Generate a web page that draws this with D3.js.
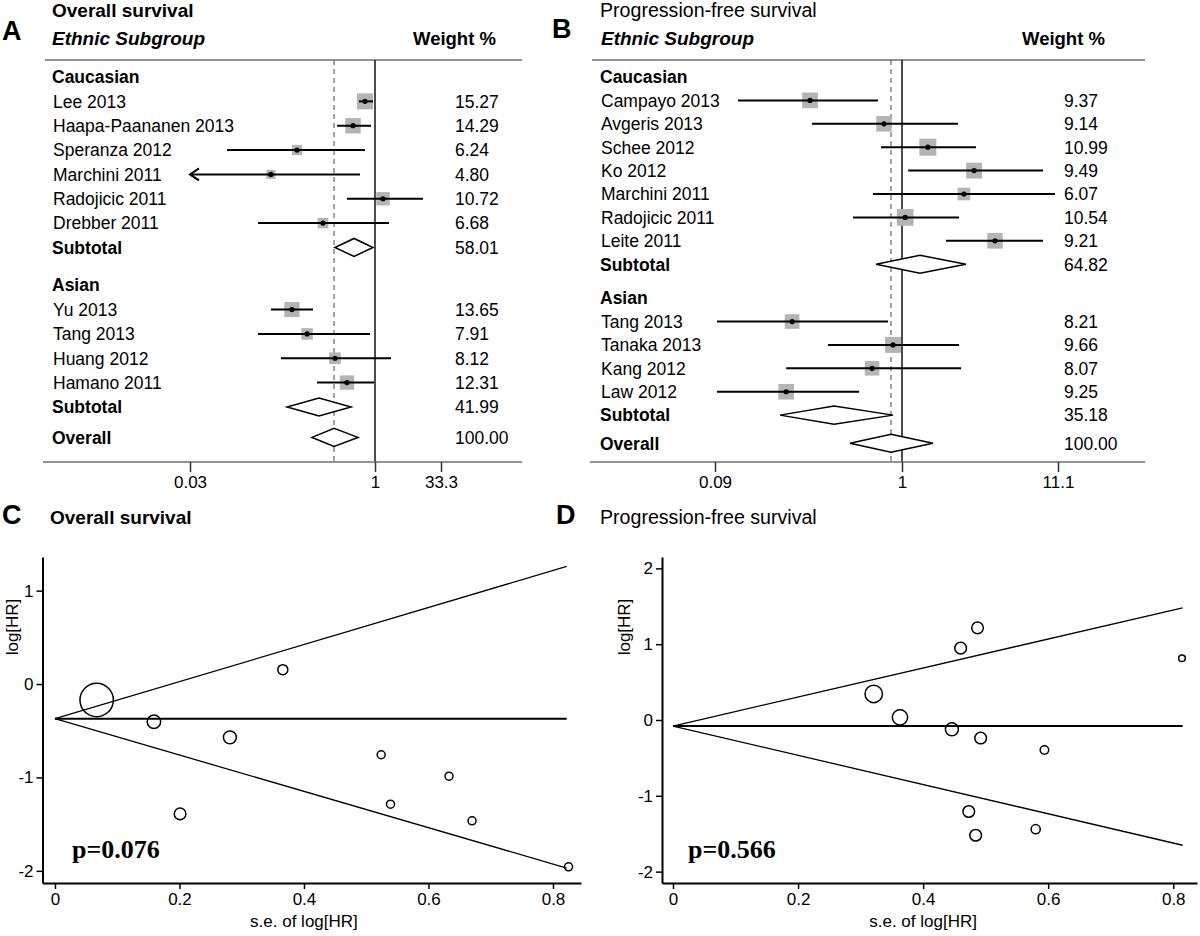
<!DOCTYPE html>
<html><head><meta charset="utf-8">
<script src="https://cdn.jsdelivr.net/npm/d3@7"></script>
<style>body{margin:0;background:#fff}svg{display:block}</style>
</head><body><svg id="c" width="1200" height="936"></svg>
<script>
// ================= DATA =================
// Panel A – Overall survival forest plot
const osGroups = ["Caucasian", "Asian"];
const osStudies = ["Lee 2013", "Haapa-Paananen 2013", "Speranza 2012", "Marchini 2011", "Radojicic 2011", "Drebber 2011",
                   "Yu 2013", "Tang 2013", "Huang 2012", "Hamano 2011"];
const osStudyGroup = [0, 0, 0, 0, 0, 0, 1, 1, 1, 1];
const osHR    = [0.827, 0.659, 0.228, 0.139, 1.53, 0.373, 0.207, 0.276, 0.468, 0.588];
const osLower = [0.738, 0.487, 0.0605, 0.02, 0.588, 0.109, 0.139, 0.109, 0.168, 0.333];
const osUpper = [0.963, 0.927, 0.827, 0.753, 12.8, 2.10, 0.309, 0.910, 2.34, 0.981];
const osWeight = [15.27, 14.29, 6.24, 4.80, 10.72, 6.68, 13.65, 7.91, 8.12, 12.31];
const osSubHR = [0.672, 0.346], osSubLower = [0.468, 0.189], osSubUpper = [0.963, 0.635], osSubWeight = [58.01, 41.99];
const osOverall = [0.460, 0.303, 0.725, 100.00]; // HR, lower, upper, weight
const osTicks = [0.03, 1, 33.3];

// Panel B – Progression-free survival forest plot
const pfsGroups = ["Caucasian", "Asian"];
const pfsStudies = ["Campayo 2013", "Avgeris 2013", "Schee 2012", "Ko 2012", "Marchini 2011", "Radojicic 2011", "Leite 2011",
                    "Tang 2013", "Tanaka 2013", "Kang 2012", "Law 2012"];
const pfsStudyGroup = [0, 0, 0, 0, 0, 0, 0, 1, 1, 1, 1];
const pfsHR    = [0.306, 0.793, 1.49, 3.04, 2.60, 1.05, 4.20, 0.243, 0.891, 0.680, 0.225];
const pfsLower = [0.121, 0.314, 0.763, 1.10, 0.688, 0.532, 1.97, 0.0923, 0.386, 0.225, 0.0923];
const pfsUpper = [0.734, 2.37, 3.13, 8.81, 10.6, 2.41, 8.81, 0.835, 2.41, 2.49, 0.575];
const pfsWeight = [9.37, 9.14, 10.99, 9.49, 6.07, 10.54, 9.21, 8.21, 9.66, 8.07, 9.25];
const pfsSubHR = [1.32, 0.417], pfsSubLower = [0.716, 0.208], pfsSubUpper = [2.68, 0.891], pfsSubWeight = [64.82, 35.18];
const pfsOverall = [0.868, 0.512, 1.61, 100.00];
const pfsTicks = [0.09, 1, 11.1];

// Panel C – Overall survival funnel plot
const osFunnelSE    = [0.067, 0.159, 0.281, 0.366, 0.201, 0.524, 0.539, 0.633, 0.670, 0.825];
const osFunnelLogHR = [-0.171, -0.403, -0.571, 0.154, -1.39, -0.757, -1.286, -0.986, -1.464, -1.957];
const osFunnelW     = [279, 45, 42, 25, 34, 16, 16, 16, 16, 16];
const osFunnelLineSE = [0, 0.822];
const osFunnelMid    = [-0.371, -0.371];
const osFunnelUpper  = [-0.371, 1.26];
const osFunnelLower  = [-0.371, -1.97];
const osFunnelP = "p=0.076";

// Panel D – Progression-free survival funnel plot
const pfsFunnelSE    = [0.321, 0.363, 0.446, 0.460, 0.487, 0.492, 0.594, 0.814, 0.473, 0.484, 0.580];
const pfsFunnelLogHR = [0.344, 0.035, -0.123, 0.947, 1.216, -0.238, -0.396, 0.815, -1.207, -1.520, -1.44];
const pfsFunnelW     = [76, 59, 42, 34, 34, 34, 18, 11, 34, 34, 21];
const pfsFunnelLineSE = [0, 0.815];
const pfsFunnelMid    = [-0.08, -0.08];
const pfsFunnelUpper  = [-0.08, 1.48];
const pfsFunnelLower  = [-0.08, -1.652];
const pfsFunnelP = "p=0.566";

const funnelXTicks = [0, 0.2, 0.4, 0.6, 0.8];

// ================= DRAWING =================
const FONT = '"Liberation Sans", Arial, Helvetica, sans-serif';
const SERIF = '"Liberation Serif", "Times New Roman", Times, serif';
const svg = d3.select("#c");

function txt(g, x, y, s, o = {}) {
  const t = g.append("text").attr("x", x).attr("y", y).text(s)
    .attr("font-family", o.family || FONT)
    .attr("font-size", o.size || 17.5)
    .attr("font-weight", o.bold ? "bold" : "normal")
    .attr("font-style", o.italic ? "italic" : "normal")
    .attr("text-anchor", o.anchor || "start")
    .attr("fill", "#000");
  if (o.dy) t.attr("dy", o.dy);
  if (o.transform) t.attr("transform", o.transform);
  return t;
}

function drawForest(c) {
  const g = svg.append("g");
  const d = c.data;
  const rows = []; let idx = 0;
  d.groups.forEach((gr, gi) => {
    if (gi > 0) idx += c.gap;
    rows.push({ type: "group", label: gr, idx }); idx++;
    d.studies.forEach((s, i) => {
      if (d.studyGroup[i] !== gi) return;
      rows.push({ type: "study", label: s, hr: d.hr[i], lo: d.lo[i], hi: d.hi[i], w: d.w[i], idx }); idx++;
    });
    rows.push({ type: "sub", label: "Subtotal", hr: d.subHR[gi], lo: d.subLo[gi], hi: d.subHi[gi], w: d.subW[gi], idx }); idx++;
  });
  idx += c.overallExtra;
  rows.push({ type: "overall", label: "Overall", hr: d.overall[0], lo: d.overall[1], hi: d.overall[2], w: d.overall[3], idx });

  const x = c.x;
  const yPos = i => c.y0 + i * c.step;
  const dom = x.domain();
  const dMin = dom[0], dMax = dom[dom.length - 1];
  const side = d3.scaleSqrt().domain([0, d3.max(d.w)]).range([0, c.maxSide]);
  const fmt = d3.format(".2f");

  txt(g, c.letterX, c.letterY, c.letter, { size: 27, bold: true });
  txt(g, c.titleX, 17, c.title, { size: c.titleSize, bold: c.titleBold });
  txt(g, c.headX, 45, "Ethnic Subgroup", { size: 19, bold: true, italic: true });
  txt(g, c.weightHeadX, 45, "Weight %", { size: 18.5, bold: true });
  g.append("line").attr("x1", c.lineX0).attr("x2", c.lineX1).attr("y1", c.topY).attr("y2", c.topY)
    .attr("stroke", "#6f6f6f").attr("stroke-width", 1.5);

  g.append("line").attr("x1", x(1)).attr("x2", x(1)).attr("y1", c.topY).attr("y2", c.axisY)
    .attr("stroke", "#111").attr("stroke-width", 1.5);
  g.append("line").attr("x1", x(d.overall[0])).attr("x2", x(d.overall[0])).attr("y1", c.topY).attr("y2", c.axisY)
    .attr("stroke", "#666").attr("stroke-width", 1.2).attr("stroke-dasharray", "5,4");

  rows.forEach(r => {
    const y = yPos(r.idx);
    const bold = r.type !== "study";
    txt(g, r.type === "study" ? c.labelX : c.labelX - 1, y, r.label, { size: 17.5, bold, dy: "0.36em" });
    if (r.type === "group") return;
    txt(g, c.weightX, y, fmt(r.w), { size: 17.5, dy: "0.36em" });
    if (r.type === "study") {
      const s = side(r.w);
      g.append("rect").attr("x", x(r.hr) - s / 2).attr("y", y - s / 2).attr("width", s).attr("height", s)
        .attr("fill", "#b4b4b4");
      const lo = Math.max(r.lo, dMin), hi = Math.min(r.hi, dMax);
      g.append("line").attr("x1", x(lo)).attr("x2", x(hi)).attr("y1", y).attr("y2", y)
        .attr("stroke", "#000").attr("stroke-width", 2);
      if (r.lo < dMin) {
        g.append("path").attr("d", `M${x(dMin) + 9},${y - 6}L${x(dMin)},${y}L${x(dMin) + 9},${y + 6}`)
          .attr("fill", "none").attr("stroke", "#000").attr("stroke-width", 2);
      }
      g.append("circle").attr("cx", x(r.hr)).attr("cy", y).attr("r", 2.6).attr("fill", "#000");
    } else {
      const h = 9;
      g.append("path").attr("d", `M${x(r.lo)},${y}L${x(r.hr)},${y - h}L${x(r.hi)},${y}L${x(r.hr)},${y + h}Z`)
        .attr("fill", "#fff").attr("stroke", "#000").attr("stroke-width", 1.5);
    }
  });

  g.append("line").attr("x1", c.lineX0 - 2).attr("x2", c.lineX1).attr("y1", c.axisY).attr("y2", c.axisY)
    .attr("stroke", "#6f6f6f").attr("stroke-width", 1.5);
  const ax = g.append("g").attr("transform", `translate(0,${c.axisY})`)
    .call(d3.axisBottom(x).tickValues(c.ticks).tickSize(10).tickPadding(4).tickFormat(v => String(v)));
  ax.select(".domain").remove();
  ax.selectAll(".tick line").attr("stroke", "#333").attr("stroke-width", 1.5);
  ax.selectAll(".tick text").attr("font-family", FONT).attr("font-size", 17).attr("fill", "#000");
}

function drawFunnel(c) {
  const g = svg.append("g");
  const d = c.data;
  const x = d3.scaleLinear().domain(c.xDomain).range(c.xRange);
  const y = d3.scaleLinear().domain(c.yDomain).range([883, 557]);
  const r = d3.scaleSqrt().domain([0, 100]).range([0, 10]);

  txt(g, c.letterX, 524, c.letter, { size: 27, bold: true });
  txt(g, c.titleX, 524, c.title, { size: c.titleSize, bold: c.titleBold });

  const ya = g.append("g").attr("transform", `translate(${c.xRange[0]},0)`)
    .call(d3.axisLeft(y).tickValues(c.yTicks).tickSize(6).tickSizeOuter(0).tickPadding(3).tickFormat(v => String(v)));
  const xa = g.append("g").attr("transform", `translate(0,883)`)
    .call(d3.axisBottom(x).tickValues(funnelXTicks).tickSize(6).tickSizeOuter(0).tickPadding(4).tickFormat(v => String(v)));
  [ya, xa].forEach(a => {
    a.select(".domain").attr("stroke", "#000").attr("stroke-width", 2);
    a.selectAll(".tick line").attr("stroke", "#000").attr("stroke-width", 1.5);
    a.selectAll(".tick text").attr("font-family", FONT).attr("font-size", 17).attr("fill", "#000");
  });
  txt(g, x(0.4), 927, "s.e. of log[HR]", { size: 17, anchor: "middle" });
  txt(g, 0, 0, "log[HR]", { size: 17, anchor: "middle", dy: "0.35em", transform: `translate(${c.yLabelX},627) rotate(-90)` });

  const line = d3.line().x(p => x(p[0])).y(p => y(p[1]));
  const pts = arr => d.lineSE.map((s, i) => [s, arr[i]]);
  g.append("path").attr("d", line(pts(d.upper))).attr("fill", "none").attr("stroke", "#000").attr("stroke-width", 1.3);
  g.append("path").attr("d", line(pts(d.lower))).attr("fill", "none").attr("stroke", "#000").attr("stroke-width", 1.3);
  g.append("path").attr("d", line(pts(d.mid))).attr("fill", "none").attr("stroke", "#000").attr("stroke-width", 2);

  d.se.forEach((s, i) => {
    g.append("circle").attr("cx", x(s)).attr("cy", y(d.logHR[i])).attr("r", r(d.w[i]))
      .attr("fill", "none").attr("stroke", "#000").attr("stroke-width", 1.5);
  });

  txt(g, c.pX, 858, d.p, { size: 26, bold: true, family: SERIF });
}

drawForest({
  letter: "A", letterX: 2, letterY: 40, title: "Overall survival", titleX: 52, titleBold: true, titleSize: 19,
  headX: 52, weightHeadX: 413, lineX0: 45, lineX1: 522, topY: 60, axisY: 462,
  labelX: 53, weightX: 455, maxSide: 16,
  x: d3.scaleLog().domain(osTicks).range([190, 375, 441]), ticks: osTicks,
  y0: 77, step: 24.35, gap: 0.55, overallExtra: 0.25,
  data: { groups: osGroups, studies: osStudies, studyGroup: osStudyGroup, hr: osHR, lo: osLower, hi: osUpper, w: osWeight,
          subHR: osSubHR, subLo: osSubLower, subHi: osSubUpper, subW: osSubWeight, overall: osOverall }
});

drawForest({
  letter: "B", letterX: 552, letterY: 38, title: "Progression-free survival", titleX: 600, titleBold: false, titleSize: 19.6,
  headX: 601, weightHeadX: 1022, lineX0: 592, lineX1: 1145, topY: 60, axisY: 462,
  labelX: 601, weightX: 1064, maxSide: 17,
  x: d3.scaleLog().domain(pfsTicks).range([715, 902, 1058]), ticks: pfsTicks,
  y0: 77, step: 23.4, gap: 0.45, overallExtra: 0.2,
  data: { groups: pfsGroups, studies: pfsStudies, studyGroup: pfsStudyGroup, hr: pfsHR, lo: pfsLower, hi: pfsUpper, w: pfsWeight,
          subHR: pfsSubHR, subLo: pfsSubLower, subHi: pfsSubUpper, subW: pfsSubWeight, overall: pfsOverall }
});

drawFunnel({
  letter: "C", letterX: 2, title: "Overall survival", titleX: 50, titleBold: true, titleSize: 19,
  xDomain: [-0.02, 0.845], xRange: [42.5, 581], yDomain: [-2.13, 1.36], yTicks: [-2, -1, 0, 1], yLabelX: 12, pX: 72,
  data: { se: osFunnelSE, logHR: osFunnelLogHR, w: osFunnelW, lineSE: osFunnelLineSE,
          mid: osFunnelMid, upper: osFunnelUpper, lower: osFunnelLower, p: osFunnelP }
});

drawFunnel({
  letter: "D", letterX: 556, title: "Progression-free survival", titleX: 600, titleBold: false, titleSize: 19.6,
  xDomain: [-0.0176, 0.838], xRange: [662, 1197], yDomain: [-2.15, 2.15], yTicks: [-2, -1, 0, 1, 2], yLabelX: 624, pX: 688,
  data: { se: pfsFunnelSE, logHR: pfsFunnelLogHR, w: pfsFunnelW, lineSE: pfsFunnelLineSE,
          mid: pfsFunnelMid, upper: pfsFunnelUpper, lower: pfsFunnelLower, p: pfsFunnelP }
});
</script></body></html>
